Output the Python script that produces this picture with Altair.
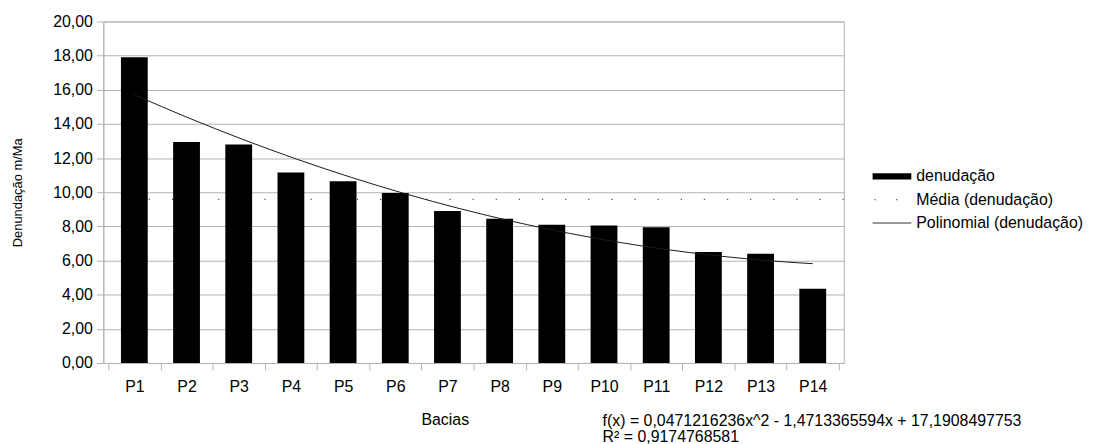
import json
import altair as alt
import pandas as pd

# ---- data ----
categories = ["P1", "P2", "P3", "P4", "P5", "P6", "P7", "P8", "P9", "P10", "P11", "P12", "P13", "P14"]
values = [17.90, 12.95, 12.80, 11.15, 10.65, 9.95, 8.90, 8.45, 8.10, 8.05, 7.95, 6.50, 6.40, 4.35]
legend_labels = ["denudação", "Média (denudação)", "Polinomial (denudação)"]
equation_lines = ["f(x) = 0,0471216236x^2 - 1,4713365594x + 17,1908497753", "R² = 0,9174768581"]
y_ticks = [0, 2, 4, 6, 8, 10, 12, 14, 16, 18, 20]

df = pd.DataFrame({"bacia": categories, "value": values, "idx": list(range(1, len(categories) + 1))})
leg_df = pd.DataFrame({"label": legend_labels})
eq_df = pd.DataFrame({"line": equation_lines})

W, H = 746, 344
FONT = "Liberation Sans"
GRAY = "#b3b3b3"
n = len(categories)
x_tick_vals = [i / 2 for i in range(1, 2 * n + 2)]  # 0.5 .. 14.5

x_scale = alt.Scale(domain=[0.5, n + 0.5], nice=False, zero=False)
y_scale = alt.Scale(domain=[0, 20], nice=False)

x_axis = alt.Axis(
    values=x_tick_vals,
    labelExpr=f"datum.value % 1 == 0 ? {json.dumps(categories)}[datum.value - 1] : ''",
    labelOverlap=False,
    labelFlush=False,
    grid=False,
    tickSize=7,
    tickOpacity={"condition": {"test": "datum.value % 1 == 0", "value": 0}, "value": 1},
    labelPadding=9,
    title="Bacias",
    titleX=344,
    titleY=57,
    titleAlign="center",
    titleBaseline="middle",
    titleFontSize=16,
)
y_axis = alt.Axis(
    values=y_ticks,
    labelExpr="replace(format(datum.value, '.2f'), '.', ',')",
    labelOverlap=False,
    tickSize=7,
    labelPadding=4,
    grid=True,
    title="Denundação m/Ma",
    titleX=-86,
    titleY=172,
    titleAlign="center",
    titleBaseline="middle",
    titleAngle=-90,
    titleFontSize=13,
)

mean_rule = alt.Chart(df).transform_aggregate(
    media="mean(value)"
).mark_rule(color="#555555", strokeWidth=1.2, strokeDash=[1.2, 22.1]).encode(
    y=alt.Y("media:Q", scale=y_scale, axis=y_axis)
)

bars = alt.Chart(df).mark_bar(color="black", size=27).encode(
    x=alt.X("idx:Q", scale=x_scale, axis=x_axis),
    y=alt.Y("value:Q", scale=y_scale, axis=y_axis),
    tooltip=["bacia", "value"],
)

trend = alt.Chart(df).transform_regression(
    "idx", "value", method="poly", order=2, extent=[1, n]
).mark_line(color="#1a1a1a", strokeWidth=1).encode(
    x=alt.X("idx:Q", scale=x_scale, axis=x_axis),
    y=alt.Y("value:Q", scale=y_scale, axis=y_axis),
)

eq1 = alt.Chart(eq_df).transform_filter(
    alt.datum.line == equation_lines[0]
).mark_text(align="left", baseline="middle", fontSize=16, font=FONT, color="black").encode(
    x=alt.value(503), y=alt.value(402), text="line:N"
)
eq2 = alt.Chart(eq_df).transform_filter(
    alt.datum.line == equation_lines[1]
).mark_text(align="left", baseline="middle", fontSize=16, font=FONT, color="black").encode(
    x=alt.value(503), y=alt.value(419), text="line:N"
)

main = alt.layer(mean_rule, bars, trend, eq1, eq2)

leg_y = alt.Y("label:N", scale=alt.Scale(type="point", domain=legend_labels, range=[156, 203], padding=0), axis=None)

leg_text = alt.Chart(leg_df).mark_text(
    align="left", baseline="middle", fontSize=16, font=FONT, color="black"
).encode(x=alt.value(819), y=leg_y, text="label:N")

leg_bar = alt.Chart(leg_df).transform_filter(
    alt.datum.label == legend_labels[0]
).mark_rule(color="black", strokeWidth=6.5).encode(
    x=alt.value(775), x2=alt.value(814), y=leg_y
)
leg_dots = alt.Chart(leg_df).transform_filter(
    alt.datum.label == legend_labels[1]
).mark_rule(color="#555555", strokeWidth=1.2, strokeDash=[1.2, 20.5]).encode(
    x=alt.value(777), x2=alt.value(814), y=leg_y
)
leg_line = alt.Chart(leg_df).transform_filter(
    alt.datum.label == legend_labels[2]
).mark_rule(color="#333333", strokeWidth=1).encode(
    x=alt.value(775), x2=alt.value(814), y=leg_y
)

legend = alt.layer(leg_text, leg_bar, leg_dots, leg_line)

chart = alt.layer(main, legend).resolve_scale(y="independent").properties(
    width=W,
    height=H,
    autosize=alt.AutoSizeParams(type="none"),
    padding={"left": 96, "top": 12, "right": 245, "bottom": 80},
).configure(
    font=FONT,
).configure_view(
    stroke=GRAY, strokeWidth=1
).configure_axis(
    labelFont=FONT,
    titleFont=FONT,
    labelFontSize=16,
    labelColor="black",
    titleColor="black",
    titleFontWeight="normal",
    labelOverlap=False,
    domainColor=GRAY,
    tickColor=GRAY,
    gridColor=GRAY,
    domainWidth=1,
    tickWidth=1,
    gridWidth=1,
)

chart.save("out.html", embed_options={"renderer": "svg", "actions": False})
